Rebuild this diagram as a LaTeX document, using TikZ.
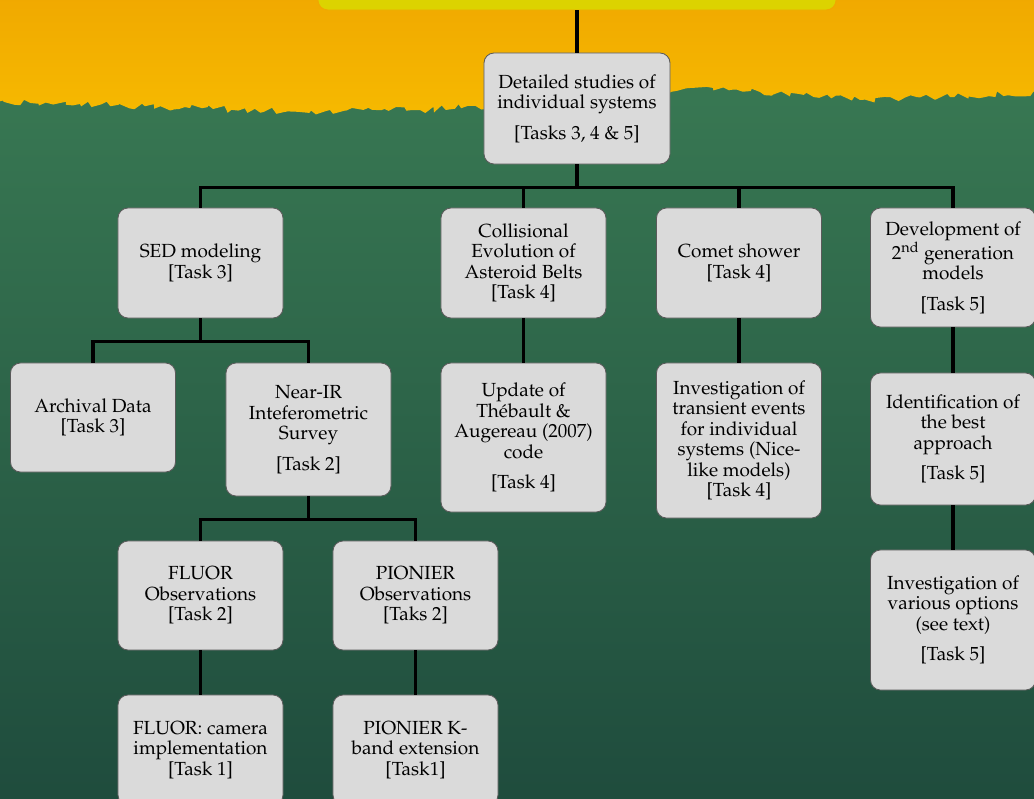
\documentclass[tikz,border=0pt]{standalone}
\usepackage[T1]{fontenc}
\usepackage{mathpazo}
\usetikzlibrary{decorations.pathmorphing, positioning}
\definecolor{sunny}{HTML}{F6B900}
\definecolor{sunnytop}{HTML}{F0A800}
\definecolor{banner}{HTML}{DCD300}
\definecolor{greentop}{HTML}{3B7D55}
\definecolor{greenbot}{HTML}{1F4C3D}
\definecolor{boxfill}{HTML}{DADADA}
\definecolor{boxedge}{HTML}{5A5A5A}
\tikzset{fork/.style = { to path = { -- ++(0,23) -| (\tikztotarget) } }}

\begin{document}
\begin{tikzpicture}[x = 0.025cm, y = -0.025cm, line width = 2.6pt,
		box/.style = { draw = boxedge, line width = 0.6pt, fill = boxfill, rounded corners = 0.25cm, minimum width = 4.125cm, align = center, inner sep = 2pt, font = \fontsize{13.5}{14.6}\selectfont }]
		\path[use as bounding box, clip] (0,0) rectangle (1034,798);

		% backdrop
		\shade[top color = greentop, bottom color = greenbot] (0,0) rectangle (1034,798);
		\shade[top color = sunnytop, bottom color = sunny] (-10,-10) -- (1044,-10) -- (1044,92)
			decorate[decoration = { random steps, segment length = 4pt, amplitude = 2.5pt }]
			{ -- (950,97) -- (860,100) -- (760,92) -- (690,88) -- (620,100) -- (520,104) -- (420,110) -- (300,112) -- (190,108) -- (80,104) -- (-10,103) } -- cycle;

		\node [box, fill = banner, draw = sunnytop, minimum width = 12.95cm, minimum height = 1.25cm] (top) at (577,-15) {};

		\node [box, minimum width = 4.65cm, minimum height = 2.775cm] (root) at (577,108.5) {Detailed studies of\\individual systems\\[7pt]{}[Tasks 3, 4 \& 5]};

		\node [box, minimum height = 2.75cm]  (sed)   at (200.5,263) {SED modeling\\{}[Task 3]};
		\node [box, minimum height = 2.75cm]  (coll)  at (523.5,263) {Collisional\\Evolution of\\Asteroid Belts\\{}[Task 4]};
		\node [box, minimum height = 2.75cm]  (comet) at (739,263)   {Comet shower\\{}[Task 4]};
		\node [box, minimum height = 2.975cm] (dev)   at (953,267.5) {Development of\\2\textsuperscript{nd} generation\\models\\[7pt]{}[Task 5]};

		\node [box, minimum height = 2.725cm] (arch)  at (93,417.5)  {Archival Data\\{}[Task 3]};
		\node [box, minimum height = 3.325cm] (nir)   at (308.5,429.5) {Near-IR\\Inteferometric\\Survey\\[7pt]{}[Task 2]};
		\node [box, minimum height = 3.725cm] (upd)   at (523.5,437.5) {Update of\\Th\'ebault \&\\Augereau (2007)\\code\\[7pt]{}[Task 4]};
		\node [box, minimum height = 3.875cm] (trans) at (739,440.5) {Investigation of\\transient events\\for individual\\systems (Nice-\\like models)\\{}[Task 4]};
		\node [box, minimum height = 3.3cm]   (ident) at (953,439)   {Identification of\\the best\\approach\\[7pt]{}[Task 5]};
		\node [box, minimum height = 3.5cm]   (vari)  at (953,620)   {Investigation of\\various options\\(see text)\\[7pt]{}[Task 5]};

		\node [box, minimum height = 2.725cm] (fobs)  at (200.5,595.5) {FLUOR\\Observations\\{}[Task 2]};
		\node [box, minimum height = 2.725cm] (pobs)  at (415.5,595.5) {PIONIER\\Observations\\{}[Taks 2]};
		\node [box, minimum height = 2.75cm]  (fcam)  at (200.5,750)   {FLUOR: camera\\implementation\\{}[Task 1]};
		\node [box, minimum height = 2.75cm]  (pk)    at (415.5,750)   {PIONIER K-\\band extension\\{}[Task1]};

		\draw (top) -- (root);
		\draw (root.south) to[fork] (sed.north);
		\draw (root.south) to[fork] (coll.north);
		\draw (root.south) to[fork] (comet.north);
		\draw (root.south) to[fork] (dev.north);
		\draw (sed.south) to[fork] (arch.north);
		\draw (sed.south) to[fork] (nir.north);
		\draw (nir.south) to[fork] (fobs.north);
		\draw (nir.south) to[fork] (pobs.north);
		\draw (coll) -- (upd);
		\draw (comet) -- (trans);
		\draw (dev) -- (ident);
		\draw (ident) -- (vari);
		\draw (fobs) -- (fcam);
		\draw (pobs) -- (pk);
	\end{tikzpicture}
\end{document}
